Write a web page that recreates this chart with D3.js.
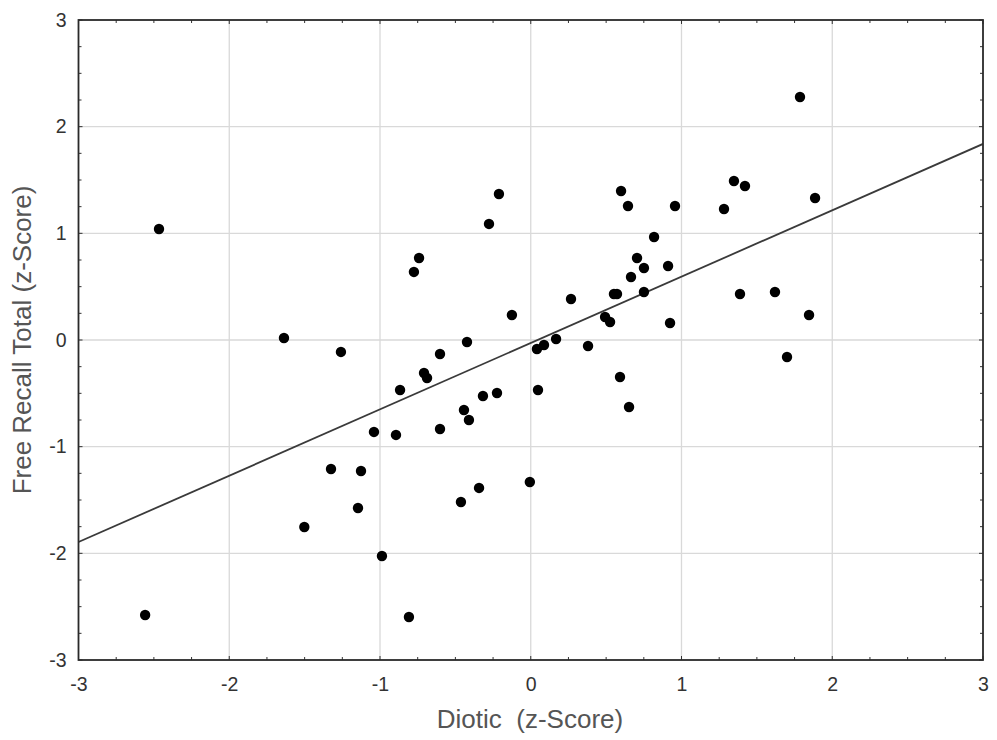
<!DOCTYPE html>
<html>
<head>
<meta charset="utf-8">
<script src="https://cdn.jsdelivr.net/npm/d3@7"></script>
<style>
  html, body { margin: 0; padding: 0; background: #fff; }
  svg text { font-family: "Liberation Sans", Arial, sans-serif; }
</style>
</head>
<body>
<svg id="chart" width="997" height="740"></svg>
<script>
// Data
const dioticZ = [
  -2.466, -2.558, -1.637, -1.259, -1.502, -1.325, -1.126, -1.146, -1.040, -0.987,
  -0.894, -0.867, -0.808, -0.775, -0.741, -0.708, -0.688, -0.602, -0.602, -0.463,
  -0.443, -0.423, -0.410, -0.343, -0.317, -0.277, -0.224, -0.211, -0.125, -0.006,
   0.041,  0.048,  0.088,  0.168,  0.267,  0.380,  0.493,  0.526,  0.552,  0.572,
   0.592,  0.599,  0.645,  0.652,  0.665,  0.705,  0.751,  0.751,  0.818,  0.911,
   0.924,  0.957,  1.282,  1.348,  1.388,  1.421,  1.620,  1.700,  1.786,  1.846,
   1.886
];
const freeRecallZ = [
   1.041, -2.578,  0.019, -0.112, -1.753, -1.209, -1.228, -1.575, -0.862, -2.025,
  -0.890, -0.469, -2.597,  0.638,  0.769, -0.309, -0.356, -0.131, -0.834, -1.519,
  -0.656, -0.019, -0.750, -1.387, -0.525,  1.088, -0.497,  1.369,  0.234, -1.331,
  -0.084, -0.469, -0.047,  0.009,  0.384, -0.056,  0.216,  0.169,  0.431,  0.431,
  -0.347,  1.397,  1.256, -0.628,  0.591,  0.769,  0.675,  0.450,  0.966,  0.694,
   0.159,  1.256,  1.228,  1.491,  0.431,  1.444,  0.450, -0.159,  2.278,  0.234,
   1.331
];
const fitLine = [-0.028, 0.622]; // intercept, slope
const xTicks = [-3, -2, -1, 0, 1, 2, 3];
const yTicks = [-3, -2, -1, 0, 1, 2, 3];
const xTitle = "Diotic  (z-Score)";
const yTitle = "Free Recall Total (z-Score)";

const svg = d3.select("#chart");
const L = 78.5, R = 983, T = 20, B = 660;
const x = d3.scaleLinear().domain([-3, 3]).range([L, R]);
const y = d3.scaleLinear().domain([-3, 3]).range([B, T]);

// grid
const g = svg.append("g");
g.selectAll(".gx").data(xTicks.slice(1, -1)).enter().append("line")
  .attr("x1", d => x(d)).attr("x2", d => x(d)).attr("y1", T).attr("y2", B)
  .attr("stroke", "#d9d9d9").attr("stroke-width", 1.3);
g.selectAll(".gy").data(yTicks.slice(1, -1)).enter().append("line")
  .attr("y1", d => y(d)).attr("y2", d => y(d)).attr("x1", L).attr("x2", R)
  .attr("stroke", "#d9d9d9").attr("stroke-width", 1.3);

// minor/major ticks (inside) on all four sides
const minorX = d3.range(-3, 3.001, 0.25);
const minorY = d3.range(-3, 3.001, 0.25);
const tk = svg.append("g").attr("stroke", "#333").attr("stroke-width", 1);
minorX.forEach(v => {
  const len = Math.abs(v - Math.round(v)) < 1e-6 ? 4 : 3;
  tk.append("line").attr("x1", x(v)).attr("x2", x(v)).attr("y1", B).attr("y2", B - len);
  tk.append("line").attr("x1", x(v)).attr("x2", x(v)).attr("y1", T).attr("y2", T + len);
});
minorY.forEach(v => {
  const len = Math.abs(v - Math.round(v)) < 1e-6 ? 4 : 3;
  tk.append("line").attr("y1", y(v)).attr("y2", y(v)).attr("x1", L).attr("x2", L + len);
  tk.append("line").attr("y1", y(v)).attr("y2", y(v)).attr("x1", R).attr("x2", R - len);
});

// regression line clipped to plot
svg.append("clipPath").attr("id", "clip").append("rect")
  .attr("x", L).attr("y", T).attr("width", R - L).attr("height", B - T);
const line = d3.line().x(d => x(d)).y(d => y(fitLine[0] + fitLine[1] * d));
svg.append("path").datum([-3, 3]).attr("d", line)
  .attr("clip-path", "url(#clip)")
  .attr("fill", "none").attr("stroke", "#3a3a3a").attr("stroke-width", 1.8);

// points
svg.append("g").selectAll("circle").data(dioticZ.map((d, i) => [d, freeRecallZ[i]]))
  .enter().append("circle")
  .attr("cx", d => x(d[0])).attr("cy", d => y(d[1])).attr("r", 5.2)
  .attr("fill", "#000");

// frame
svg.append("rect").attr("x", L).attr("y", T).attr("width", R - L).attr("height", B - T)
  .attr("fill", "none").attr("stroke", "#2a2a2a").attr("stroke-width", 1.8);

// axes labels via d3 axes (no lines)
const xAxis = svg.append("g").attr("transform", `translate(0,${B})`)
  .call(d3.axisBottom(x).tickValues(xTicks).tickSize(0).tickPadding(17.5).tickFormat(d3.format("d")));
const yAxis = svg.append("g").attr("transform", `translate(${L},0)`)
  .call(d3.axisLeft(y).tickValues(yTicks).tickSize(0).tickPadding(12).tickFormat(d3.format("d")));
[xAxis, yAxis].forEach(a => {
  a.select(".domain").remove();
  a.selectAll("text").attr("font-size", 19.5).attr("fill", "#333")
    .style("font-family", "'Liberation Sans', Arial, sans-serif");
});
// use plain hyphen minus
[xAxis, yAxis].forEach(a => a.selectAll("text").text(d => String(d)));

// titles
svg.append("text").attr("x", 530).attr("y", 728).attr("text-anchor", "middle")
  .attr("font-size", 26).attr("fill", "#555").style("white-space", "pre").text(xTitle);
svg.append("text").attr("transform", `translate(31,340) rotate(-90)`).attr("text-anchor", "middle")
  .attr("font-size", 26).attr("fill", "#555").text(yTitle);
</script>
</body>
</html>
